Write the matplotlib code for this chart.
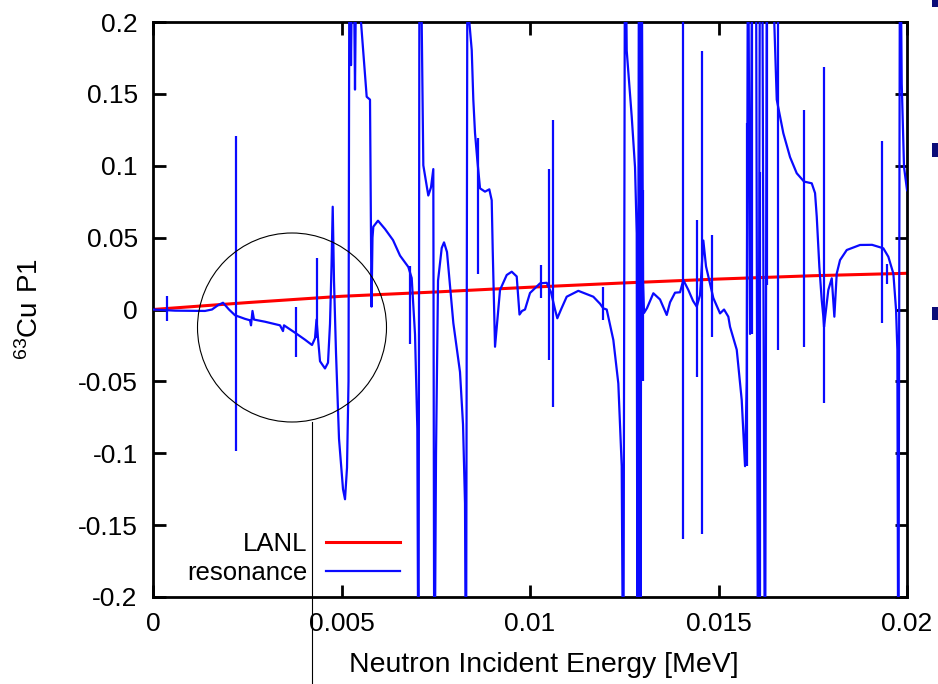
"""63Cu P1 Legendre coefficient: LANL evaluation vs. resonance reconstruction.

Writes out.png (938x684).
"""
import matplotlib

matplotlib.use("Agg")
import matplotlib.pyplot as plt
from matplotlib.lines import Line2D
from matplotlib.patches import Circle, Rectangle

# --- data ------------------------------------------------------------------
lanl_energy = [0.0, 0.0025, 0.005, 0.0075, 0.01, 0.0125, 0.015, 0.0175, 0.02]
lanl_p1 = [0.0, 0.0048, 0.0092, 0.0122, 0.0155, 0.0185, 0.0212, 0.0235, 0.0252]

# smooth part of the resonance curve (poles run off the axes as +/-0.3)
res_energy = [
    0.0, 0.000584, 0.001379, 0.001565, 0.001724, 0.001857, 0.002016, 0.002175,
    0.00244, 0.002573, 0.0026, 0.002639, 0.002679, 0.002971, 0.003369, 0.003448,
    0.003475, 0.003793, 0.004032, 0.004218, 0.004297, 0.004337, 0.004377, 0.00443,
    0.004562, 0.004642, 0.004695, 0.004735, 0.004767, 0.004801, 0.004854, 0.004934,
    0.00504, 0.005093, 0.005146, 0.005186, 0.005212, 0.005252, 0.005305, 0.005358,
    0.005411, 0.005517, 0.005668, 0.005756, 0.005796, 0.005822, 0.005844, 0.005968,
    0.006154, 0.006366, 0.006552, 0.006772, 0.006862, 0.00695, 0.007011, 0.007042,
    0.007069, 0.007127, 0.00717, 0.007302, 0.007374, 0.007435, 0.007462, 0.007507,
    0.00756, 0.007658, 0.007719, 0.007798, 0.007966, 0.008143, 0.008223, 0.008276,
    0.008302, 0.008342, 0.00839, 0.008454, 0.008496, 0.008541, 0.008602, 0.008674,
    0.008806, 0.00892, 0.008984, 0.009011, 0.009072, 0.009159, 0.009204, 0.009382,
    0.009515, 0.009647, 0.009721, 0.009788, 0.009867, 0.01, 0.010265, 0.010443,
    0.010557, 0.010663, 0.010724, 0.010822, 0.010973, 0.011281, 0.011679, 0.011857,
    0.011944, 0.012034, 0.01221, 0.012342, 0.012432, 0.012475, 0.01252, 0.012565,
    0.012698, 0.012785, 0.01283, 0.012851, 0.012891, 0.012931, 0.012958, 0.012997,
    0.013024, 0.013103, 0.013271, 0.013448, 0.013626, 0.013714, 0.013846, 0.013979,
    0.014066, 0.014199, 0.014324, 0.014422, 0.014509, 0.014554, 0.014597, 0.014668,
    0.014775, 0.014862, 0.01504, 0.015146, 0.01526, 0.015305, 0.015483, 0.015615,
    0.015703, 0.015748, 0.015782, 0.015836, 0.015902, 0.015995, 0.016048, 0.016101,
    0.016154, 0.016233, 0.016286, 0.016454, 0.016544, 0.016719, 0.016897, 0.017074,
    0.017268, 0.017472, 0.01756, 0.017605, 0.017674, 0.017737, 0.01778, 0.017798,
    0.017851, 0.017912, 0.018003, 0.018072, 0.018135, 0.018223, 0.018401, 0.018753,
    0.019072, 0.019371, 0.019504, 0.019637, 0.019708, 0.019743, 0.019769, 0.019814,
    0.019859, 0.01992, 0.02,
]
res_p1 = [
    0.0, -0.0008, -0.001, 0.0, 0.003, 0.0047, 0.0, -0.004,
    -0.0065, -0.0075, -0.011, -0.001, -0.007, -0.0085, -0.011, -0.015,
    -0.011, -0.0166, -0.021, -0.0247, -0.02, -0.007, -0.02, -0.036,
    -0.041, -0.037, -0.01, 0.03, 0.0715, 0.02, -0.03, -0.09,
    -0.125, -0.132, -0.11, -0.05, 0.3, 0.17, 0.3, 0.153,
    0.3, 0.2, 0.148, 0.146, 0.002, 0.05, 0.0576, 0.0618,
    0.056, 0.0483, 0.0375, 0.0296, 0.0219, -0.0174, -0.083, -0.3,
    0.3, 0.2, 0.1003, 0.0793, 0.085, 0.0977, -0.3, -0.1,
    0.02, 0.0428, 0.0467, 0.04, -0.0094, -0.0435, -0.08, -0.135,
    -0.3, 0.3, 0.2, 0.1805, 0.146, 0.1228, 0.104, 0.0843,
    0.082, 0.0836, 0.076, 0.041, -0.0259, 0.0, 0.0136, 0.024,
    0.0263, 0.023, -0.0035, -0.001, 0.0, 0.0115, 0.0182, 0.0186,
    0.012, 0.0, -0.0061, 0.0, 0.0089, 0.013, 0.0089, 0.004,
    0.0008, 0.0, -0.0212, -0.0514, -0.109, -0.3, 0.3, 0.18,
    0.134, 0.099, 0.053, -0.3, 0.3, -0.3, 0.3, 0.02,
    -0.0024, 0.001, 0.0113, 0.007, -0.0038, 0.005, 0.0117, 0.012,
    0.0205, 0.0136, 0.006, 0.002, 0.01, 0.03, 0.048, 0.03,
    0.018, 0.008, -0.0027, 0.0, -0.005, -0.012, -0.028, -0.063,
    -0.109, -0.05, 0.3, -0.017, 0.3, 0.25, -0.3, 0.3,
    0.3, -0.3, 0.3, 0.22, 0.146, 0.1226, 0.106, 0.0948,
    0.089, 0.0878, 0.081, 0.0646, 0.0298, 0.0066, -0.005, -0.012,
    0.0, 0.0136, 0.0217, -0.005, 0.025, 0.0344, 0.0414, 0.0449,
    0.045, 0.0426, 0.0367, 0.025, 0.0, -0.028, -0.3, 0.3,
    0.157, 0.099, 0.083,
]

# narrow resonances: drawn as vertical strokes from top to bottom value
spike_energy = [
    0.000379, 0.002202, 0.003785, 0.004358, 0.006817, 0.008613, 0.010292,
    0.010512, 0.010618, 0.011944, 0.013005, 0.014058, 0.014422, 0.014554,
    0.01482, 0.015748, 0.015881, 0.016101, 0.016278, 0.01657, 0.017276,
    0.017798, 0.019345, 0.019462,
]
spike_top = [
    0.0092, 0.1207, 0.002, 0.0356, 0.03, 0.119, 0.031,
    0.098, 0.132, 0.0159, 0.083, 0.3, 0.062, 0.18,
    0.052, 0.13, 0.3, 0.096, 0.3, 0.3, 0.139,
    0.169, 0.117, 0.032,
]
spike_bottom = [
    -0.0079, -0.0984, -0.033, -0.02, -0.024, 0.025, 0.0078,
    -0.035, -0.0676, -0.0073, -0.05, -0.16, -0.0467, -0.156,
    -0.019, -0.109, -0.017, -0.3, 0.017, -0.028, -0.026,
    -0.065, -0.0096, 0.018,
]

x_ticks = [0.0, 0.005, 0.01, 0.015, 0.02]
x_tick_labels = ["0", "0.005", "0.01", "0.015", "0.02"]
y_ticks = [-0.2, -0.15, -0.1, -0.05, 0.0, 0.05, 0.1, 0.15, 0.2]
y_tick_labels = ["-0.2", "-0.15", "-0.1", "-0.05", "0", "0.05", "0.1", "0.15", "0.2"]

RED = "#ff0000"
BLUE = "#0a0aff"
FS = 19


def main() -> None:
    plt.rcParams["font.family"] = ["Liberation Sans", "DejaVu Sans"]
    plt.rcParams["axes.unicode_minus"] = False

    fig = plt.figure(figsize=(9.38, 6.84), dpi=100)
    ax = fig.add_axes([0.1631, 0.1272, 0.8039, 0.8406])

    ax.plot(lanl_energy, lanl_p1, color=RED, lw=2.2, label="LANL", zorder=2)
    ax.plot(res_energy, res_p1, color=BLUE, lw=1.6, label="resonance", zorder=3)
    ax.vlines(spike_energy, spike_bottom, spike_top, color=BLUE, lw=1.6, zorder=3)

    ax.set_xlim(0, 0.02)
    ax.set_ylim(-0.2, 0.2)
    ax.set_xticks(x_ticks, x_tick_labels)
    ax.set_yticks(y_ticks, y_tick_labels)
    ax.tick_params(direction="in", length=9, width=2, top=True, right=True,
                   labelsize=FS, pad=11)
    for s in ax.spines.values():
        s.set_linewidth(2)

    ax.set_xlabel("Neutron Incident Energy [MeV]", fontsize=20.5)
    ax.xaxis.set_label_coords(0.518, -0.095)
    ax.set_ylabel(r"$\mathregular{^{63}Cu\ P1}$", fontsize=20)
    ax.yaxis.set_label_coords(-0.145, 0.5)

    ax.legend(loc="lower right", bbox_to_anchor=(0.338, 0.008), frameon=False,
              markerfirst=False, fontsize=18.5, handlelength=2.9,
              handletextpad=0.7, labelspacing=0.17, borderpad=0.3,
              borderaxespad=0)

    # slide annotation: circle around the low-energy region + pointer line
    fig.add_artist(Circle((2.92, 3.565), 0.945, transform=fig.dpi_scale_trans,
                          fill=False, lw=0.8, color="black"))
    fig.add_artist(Line2D([3.12, 3.12], [2.62, 0.0], transform=fig.dpi_scale_trans,
                          lw=0.8, color="black"))

    # bullets of the surrounding slide, cut at the right edge
    for y0, h in [(6.77, 0.1), (5.27, 0.14), (3.64, 0.13)]:
        fig.add_artist(Rectangle((9.32, y0), 0.1, h, transform=fig.dpi_scale_trans,
                                 color="#0c0c78", lw=0))

    fig.savefig("out.png", dpi=100)
    plt.close(fig)


if __name__ == "__main__":
    main()
